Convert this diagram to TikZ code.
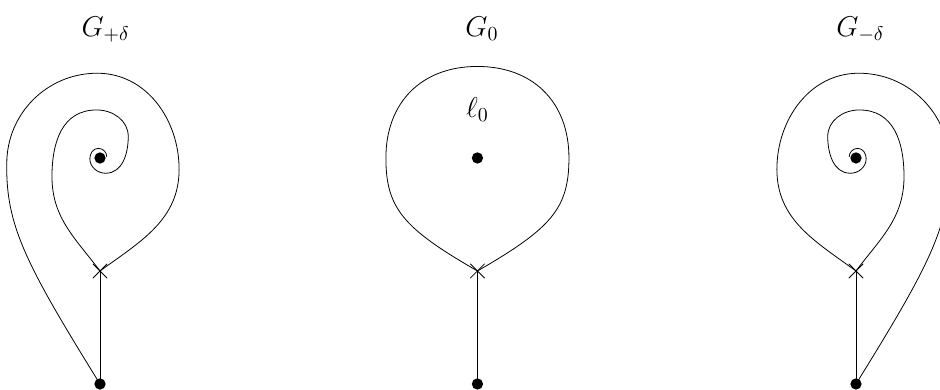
\documentclass[tikz,border=0pt]{standalone}
\usetikzlibrary{shapes.misc}

\begin{document}
\begin{tikzpicture}[
  pt/.style={circle, fill, inner sep=0pt, minimum size=0.2cm},
  joint/.style={cross out, draw, inner sep=0pt, minimum size=0.24cm},
  lbl/.style={anchor=base, font=\Large}
]

% the visible window (the right curve runs out of it)
\clip (-1.77,-0.106) rectangle (14.867,6.796);

% the three stalks: bottom point, crossing, centre point
\foreach \i/\xpos in {1/0, 2/6.68, 3/13.38}
{
  \node[pt] (b\i) at (\xpos,0) {};
  \node[joint] (x\i) at (\xpos,2) {};
  \node[pt] (c\i) at (\xpos,4) {};
  \draw (b\i.center) -- (x\i.center);
}

% spiralling curves of G_{+delta}, mirrored for G_{-delta}
\foreach \side/\xpos in {1/0, -1/13.38}
{
  \begin{scope}[shift={(\xpos,0)}, xscale=\side]
    % outer turn from the bottom point back to the crossing
    \draw (0,0) .. controls (-1.3,2.1) and (-1.67,2.8) .. (-1.65,3.9)
      to[out=90,in=180] (-0.05,5.5)
      to[out=0,in=90] (1.40,3.8) to[out=-90,in=36] (0,2);
    % inner turn winding into the centre point
    \draw (0,2) to[out=127,in=-90] (-0.85,3.67) to[out=90,in=180,looseness=1.1] (-0.06,4.85)
      to[out=0,in=90] (0.50,4.38) to[out=-90,in=0] (0.10,3.73)
      to[out=180,in=-90] (-0.18,3.99) to[out=90,in=180] (-0.03,4.17)
      to[out=0,in=90] (0.12,4.02);
  \end{scope}
}

% the closed loop of G_0
\begin{scope}[shift={(6.68,0)}]
  \draw (0,2) .. controls (-1.3,2.75) and (-1.62,3.1) .. (-1.62,4.0)
    to[out=90,in=180,looseness=1.1] (0,5.62)
    to[out=0,in=90,looseness=1.1] (1.62,4.0)
    .. controls (1.62,3.1) and (1.3,2.75) .. (0,2);
\end{scope}

% labels
\node[lbl] (gp) at (0.1,6.15) {$G_{+\delta}$};
\node[lbl] (g0) at (6.76,6.15) {$G_0$};
\node[lbl] (gm) at (13.46,6.15) {$G_{-\delta}$};
\node[lbl] (l0) at (6.68,4.72) {$\ell_0$};

\end{tikzpicture}
\end{document}
